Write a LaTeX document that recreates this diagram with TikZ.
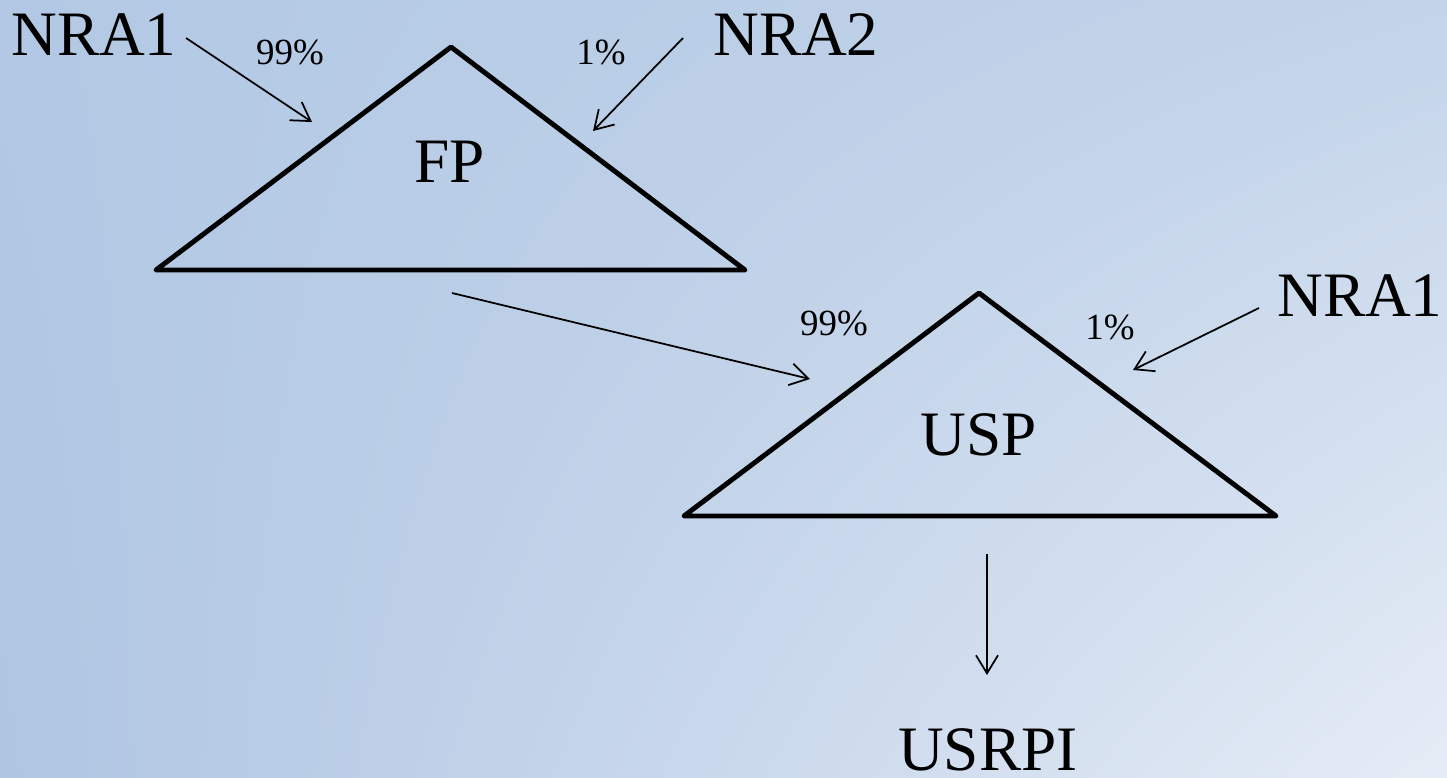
\documentclass[tikz,border=0pt]{standalone}
\usepackage{fontspec}
\setmainfont{Liberation Serif}
\usetikzlibrary{arrows.meta, positioning, shadings}

\definecolor{bgUL}{HTML}{B2C8E4}
\definecolor{bgUR}{HTML}{C3D4E9}
\definecolor{bgLL}{HTML}{AFC5E2}
\definecolor{bgLR}{HTML}{E5ECF6}

\begin{document}
\begin{tikzpicture}[x=0.01cm, y=-0.01cm,
    big/.style={font=\fontsize{18}{20}\selectfont, inner sep=0pt},
    pct/.style={font=\fontsize{10.5}{12}\selectfont, inner sep=0pt},
    tri/.style={line width=1.4pt, line join=round},
    flow/.style={-{Straight Barb[length=1.8mm, width=2.2mm]}, line width=0.5pt}]

    % Background
    \shade[upper left=bgUL, upper right=bgUR, lower left=bgLL, lower right=bgLR]
        (0, 0) rectangle (1447, 778);
    \useasboundingbox (0, 0) rectangle (1447, 778);

    % Upper triangle
    \draw[tri] (451, 47) -- (156, 270) -- (745, 270) -- cycle;
    \node[big] (fp) at (450, 162) {FP};
    \node[big] (nraA) at (94, 35) {NRA1};
    \node[big] (nraB) at (796, 35) {NRA2};
    \node[pct] (pfpA) at (290, 52) {99\%};
    \node[pct] (pfpB) at (601, 52) {1\%};

    % Lower triangle
    \draw[tri] (979, 293) -- (684, 516) -- (1276, 516) -- cycle;
    \node[big] (usp) at (979, 435) {USP};
    \node[big] (nraC) at (1360, 296) {NRA1};
    \node[pct] (puspA) at (834, 323) {99\%};
    \node[pct] (puspB) at (1110, 327) {1\%};
    \node[big] (usrpi) at (988, 750) {USRPI};

    % Arrow ends
    \coordinate (a1s) at (186, 38);
    \coordinate (a1e) at (312, 122);
    \coordinate (a2s) at (683, 38);
    \coordinate (a2e) at (593, 131);
    \coordinate (a3s) at (452, 293);
    \coordinate (a3e) at (810, 379);
    \coordinate (a4s) at (1259, 308);
    \coordinate (a4e) at (1133, 370);
    \coordinate (a5s) at (987, 554);
    \coordinate (a5e) at (987, 675);

    % Arrows
    \draw[flow] (a1s) -- (a1e);
    \draw[flow] (a2s) -- (a2e);
    \draw[flow] (a3s) -- (a3e);
    \draw[flow] (a4s) -- (a4e);
    \draw[flow] (a5s) -- (a5e);
\end{tikzpicture}
\end{document}
